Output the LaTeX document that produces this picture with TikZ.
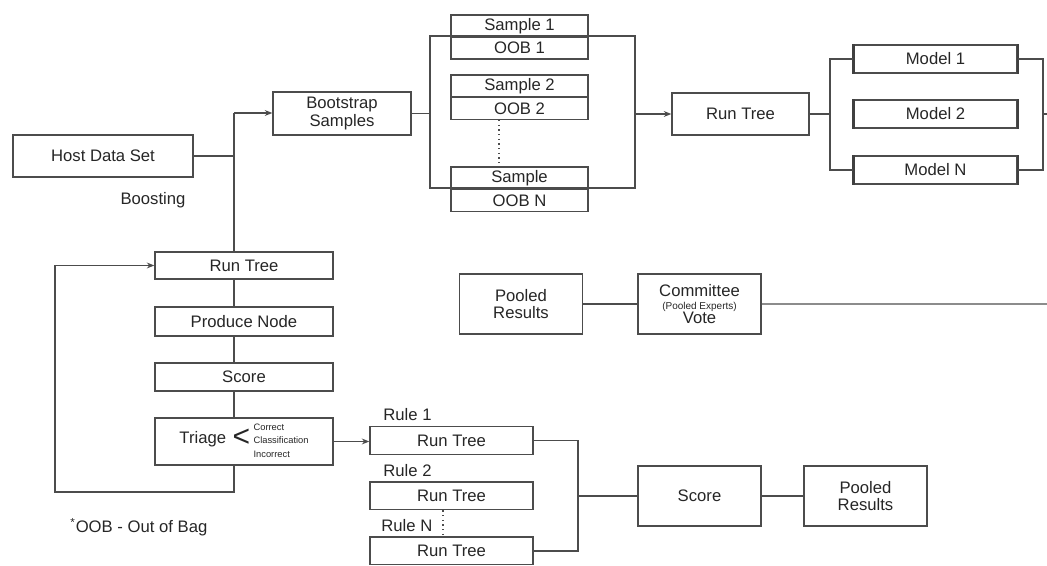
\documentclass[tikz,border=0pt]{standalone}
\usepackage{fontspec}
\setmainfont{Liberation Sans}
\usetikzlibrary{arrows.meta}

\begin{document}
\begin{tikzpicture}[
		x=0.6pt, y=-0.6pt,
		every node/.style={font=\fontsize{10}{10.5}\selectfont, text=black!85},
		blk/.style={draw=black!70, line width=0.8pt, rectangle, inner sep=0pt, align=center},
		half/.style={blk, minimum width=82.2pt, minimum height=13.2pt},
		model/.style={blk, minimum width=97.8pt, minimum height=16.8pt},
		stage/.style={blk, minimum width=106.8pt},
		pool/.style={blk, minimum width=73.8pt, minimum height=36pt},
		rule/.style={blk, minimum width=97.8pt, minimum height=16.6pt},
		lnk/.style={draw=black!70, line width=0.8pt},
		arr/.style={lnk, -{Stealth[length=4.5pt, width=3.5pt]}}
		]
		\useasboundingbox (0,0) rectangle (1047,566);

		\node[blk, minimum width=108pt, minimum height=25.2pt] (host) at (103,156) {Host Data Set};
		\node (boosting) at (153,200) {Boosting};
		\node[blk, minimum width=82.8pt, minimum height=25.8pt] (boot) at (342,113.5) {Bootstrap\\Samples};

		\node[half] (smp1) at (519.5,26) {Sample 1};
		\node[half] (oob1) at (519.5,48) {OOB 1};
		\node[half] (smp2) at (519.5,86) {Sample 2};
		\node[half] (oob2) at (519.5,108.5) {OOB 2};
		\node[half] (smpN) at (519.5,178) {Sample};
		\node[half] (oobN) at (519.5,200.5) {OOB N};
		\coordinate (fnw) at (430,36);
		\coordinate (fse) at (635,188);
		\draw[lnk] (fnw) rectangle (fse);
		\draw[lnk] (boot.east) -- (boot.east -| fnw);
		\draw[lnk, dotted] ([xshift=-12.3pt]oob2.south) -- ([xshift=-12.3pt]smpN.north);

		\node[blk, minimum width=82.2pt, minimum height=25.2pt] (run) at (740.5,114) {Run Tree};
		\draw[arr] (fse |- run.west) -- (run.west);
		\node[model] (m1) at (935.5,59) {Model 1};
		\node[model] (m2) at (935.5,114) {Model 2};
		\node[model] (mN) at (935.5,170) {Model N};
		\foreach \m in {m1,m2,mN}
			\draw[line width=1.4pt, black!75] (\m.north west) -- (\m.south west) (\m.north east) -- (\m.south east);
		\coordinate (mjoin) at (830,114);
		\coordinate (mout) at (1043,114);
		\coordinate (medge) at (1047,114);
		\draw[lnk] (run.east) -- (mjoin);
		\draw[lnk] (m1.west) -| (mjoin) |- (mN.west);
		\draw[lnk] (m1.east) -| (mout) |- (mN.east);
		\draw[lnk] (mout) -- (medge);

		\coordinate (trunk) at (234,113);
		\node[stage, minimum height=16.2pt] (rt) at (244,265.5) {Run Tree};
		\node[stage, minimum height=17.4pt] (pn) at (244,321.5) {Produce Node};
		\node[stage, minimum height=16.8pt] (sc) at (244,377) {Score};
		\node[stage, minimum height=28.2pt] (tr) at (244,441.5) {Triage\hspace{4pt}\raisebox{-1.5pt}{\fontsize{18}{18}\selectfont<}\hspace{2pt}{\fontsize{5.6}{7.6}\selectfont\begin{tabular}[c]{@{}l@{}}Correct\\Classification\\[1pt]Incorrect\end{tabular}}};
		\draw[lnk] (host.east) -- (host.east -| trunk);
		\draw[arr] (trunk) -- (trunk -| boot.west);
		\draw[lnk] (trunk) -- (trunk |- rt.north);
		\foreach \a/\b in {rt/pn,pn/sc,sc/tr}
			\draw[lnk] (\a.south -| trunk) -- (\b.north -| trunk);
		\coordinate (loop) at (55,492);
		\draw[arr] (tr.south -| trunk) |- (loop) |- (rt.west);
		\node[anchor=west] (oobnote) at (64.5,527) {\textsuperscript{*}OOB - Out of Bag};

		\node[pool] (pt) at (521,304) {Pooled\\Results};
		\node[pool] (cm) at (699.5,304) {Committee\\[-2.5pt]{\fontsize{6}{6}\selectfont(Pooled Experts)}\\[-2.5pt]Vote};
		\coordinate (cedge) at (1047,304);
		\draw[lnk] (pt.east) -- (cm.west);
		\draw[lnk, line width=1.4pt, draw=black!45] (cm.east) -- (cedge);

		\node[rule] (r1) at (451.5,440.5) {Run Tree};
		\node[rule] (r2) at (451.5,496) {Run Tree};
		\node[rule] (rN) at (451.5,551) {Run Tree};
		\node[anchor=west] (lab1) at (377.5,415) {Rule 1};
		\node[anchor=west] (lab2) at (377.5,471) {Rule 2};
		\node[anchor=west] (labN) at (375.5,526) {Rule N};
		\draw[arr] (tr.east) -- (tr.east -| r1.west);
		\draw[lnk, dotted] ([xshift=-5.1pt]r2.south) -- ([xshift=-5.1pt]rN.north);
		\coordinate (rjoin) at (578,496);
		\draw[lnk] (r1.east) -| (rjoin) |- (rN.east);
		\node[pool] (rs) at (699.5,496) {Score};
		\node[pool] (pb) at (865.5,496) {Pooled\\Results};
		\draw[lnk] (rjoin) -- (rs.west);
		\draw[lnk] (rs.east) -- (pb.west);
	\end{tikzpicture}
\end{document}
